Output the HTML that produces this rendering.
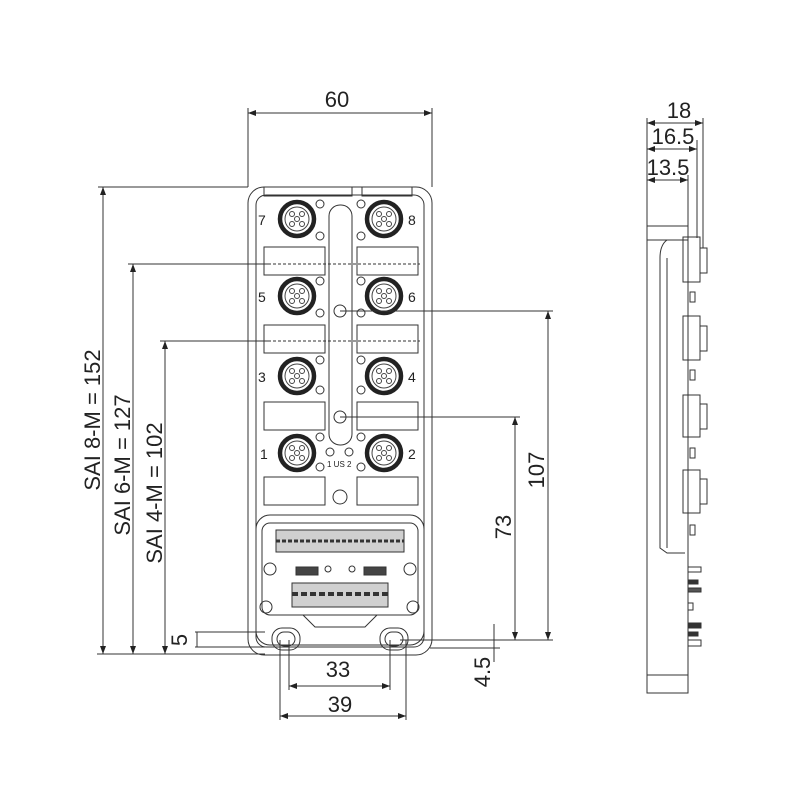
<!DOCTYPE html>
<html><head><meta charset="utf-8"><style>
html,body{margin:0;padding:0;background:#fff}
svg{display:block}
text{font-family:"Liberation Sans Narrow","Liberation Sans",sans-serif;fill:#222}
</style></head><body>
<svg width="800" height="800" viewBox="0 0 800 800" xmlns="http://www.w3.org/2000/svg">
<defs>
<marker id="a" markerWidth="8" markerHeight="6" refX="8" refY="3" orient="auto-start-reverse" markerUnits="userSpaceOnUse"><path d="M0,0 L8,3 L0,6z" fill="#222"/></marker>
<g id="conn">
<circle r="17" fill="none" stroke="#222" stroke-width="4.5"/>
<circle r="12" fill="none" stroke="#444" stroke-width="1"/>
<circle r="2.5" fill="none" stroke="#444"/>
<circle cx="-5" cy="-5" r="2.5" fill="none" stroke="#444"/>
<circle cx="5" cy="-5" r="2.5" fill="none" stroke="#444"/>
<circle cx="-5" cy="5" r="2.5" fill="none" stroke="#444"/>
<circle cx="5" cy="5" r="2.5" fill="none" stroke="#444"/>
</g>
</defs>
<g stroke="#333" stroke-width="1" fill="none">
<rect x="248" y="187" width="184" height="468" rx="16"/>
<rect x="256" y="195" width="168" height="452" rx="10"/>
<rect x="264" y="187" width="88" height="9"/>
<rect x="362" y="187" width="50" height="9"/>
<rect x="329" y="205" width="23" height="240" rx="11"/>
<rect x="264" y="247" width="61" height="28"/><rect x="357" y="247" width="61" height="28"/>
<rect x="264" y="325" width="61" height="28"/><rect x="357" y="325" width="61" height="28"/>
<rect x="264" y="402" width="61" height="28"/><rect x="357" y="402" width="61" height="28"/>
<rect x="264" y="477" width="61" height="28"/><rect x="357" y="477" width="61" height="28"/>
<line x1="268" y1="264" x2="420" y2="264" stroke-dasharray="3 2"/>
<line x1="268" y1="341" x2="420" y2="341" stroke-dasharray="3 2"/>
<circle cx="320" cy="204" r="4"/><circle cx="320" cy="236" r="4"/><circle cx="361" cy="204" r="4"/><circle cx="361" cy="236" r="4"/>
<circle cx="320" cy="281" r="4"/><circle cx="320" cy="313" r="4"/><circle cx="361" cy="281" r="4"/><circle cx="361" cy="313" r="4"/>
<circle cx="320" cy="360" r="4"/><circle cx="320" cy="390" r="4"/><circle cx="361" cy="360" r="4"/><circle cx="361" cy="390" r="4"/>
<circle cx="320" cy="437" r="4"/><circle cx="320" cy="467" r="4"/><circle cx="361" cy="437" r="4"/><circle cx="361" cy="467" r="4"/>
<circle cx="330" cy="452" r="4"/><circle cx="349" cy="452" r="4"/>
<circle cx="340" cy="311" r="6"/><circle cx="340" cy="417" r="6"/><circle cx="340" cy="497" r="7"/>
<rect x="256" y="515" width="168" height="130" rx="14"/>
<rect x="262" y="523" width="156" height="92" rx="8"/>
<rect x="276" y="530" width="128" height="22" fill="#d0d0d0"/>
<line x1="276" y1="541" x2="404" y2="541" stroke-dasharray="4 2" stroke-width="3"/>
<rect x="292" y="583" width="96" height="24" fill="#d0d0d0"/>
<line x1="292" y1="594" x2="388" y2="594" stroke-dasharray="6 3" stroke-width="4"/>
<rect x="296" y="567" width="22" height="8" fill="#444"/><rect x="364" y="567" width="22" height="8" fill="#444"/>
<circle cx="328" cy="569" r="3"/><circle cx="352" cy="569" r="3"/>
<circle cx="270" cy="569" r="6"/><circle cx="410" cy="569" r="6"/>
<circle cx="266" cy="607" r="6"/><circle cx="413" cy="607" r="6"/>
<path d="M303,615 L315,627 L365,627 L377,615"/>
<rect x="272" y="628" width="28" height="22" rx="10"/><rect x="380" y="628" width="28" height="22" rx="10"/>
<rect x="277" y="632" width="18" height="14" rx="7"/><rect x="385" y="632" width="18" height="14" rx="7"/>
</g>
<g>
<use href="#conn" x="297" y="219"/><use href="#conn" x="384" y="219"/>
<use href="#conn" x="297" y="296"/><use href="#conn" x="384" y="296"/>
<use href="#conn" x="297" y="376"/><use href="#conn" x="384" y="376"/>
<use href="#conn" x="297" y="453"/><use href="#conn" x="384" y="453"/>
</g>
<g font-size="14">
<text x="258" y="225">7</text><text x="408" y="225">8</text>
<text x="258" y="302">5</text><text x="408" y="302">6</text>
<text x="258" y="382">3</text><text x="408" y="382">4</text>
<text x="260" y="459">1</text><text x="408" y="459">2</text>
<text x="327" y="467" font-size="8">1 US 2</text>
</g>
<g stroke="#333" stroke-width="1" fill="none">
<line x1="248" y1="108" x2="248" y2="187"/><line x1="432" y1="108" x2="432" y2="187"/>
<line x1="248" y1="113" x2="432" y2="113" marker-start="url(#a)" marker-end="url(#a)"/>
<line x1="98" y1="187" x2="248" y2="187"/>
<line x1="128" y1="264" x2="268" y2="264"/>
<line x1="160" y1="341" x2="268" y2="341"/>
<line x1="97" y1="654" x2="265" y2="654"/>
<line x1="103" y1="187" x2="103" y2="654" marker-start="url(#a)" marker-end="url(#a)"/>
<line x1="133" y1="264" x2="133" y2="654" marker-start="url(#a)" marker-end="url(#a)"/>
<line x1="165" y1="341" x2="165" y2="654" marker-start="url(#a)" marker-end="url(#a)"/>
<line x1="195" y1="632" x2="265" y2="632"/><line x1="195" y1="647" x2="265" y2="647"/>
<line x1="197" y1="632" x2="197" y2="647"/>
<line x1="340" y1="311" x2="553" y2="311"/><line x1="340" y1="417" x2="520" y2="417"/>
<line x1="548" y1="311" x2="548" y2="640" marker-start="url(#a)" marker-end="url(#a)"/>
<line x1="515" y1="417" x2="515" y2="640" marker-start="url(#a)" marker-end="url(#a)"/>
<line x1="400" y1="640" x2="553" y2="640"/><line x1="430" y1="648" x2="500" y2="648"/>
<line x1="494" y1="624" x2="494" y2="662"/>
<line x1="289" y1="640" x2="289" y2="690"/><line x1="390" y1="640" x2="390" y2="690"/>
<line x1="280" y1="640" x2="280" y2="720"/><line x1="406" y1="640" x2="406" y2="720"/>
<line x1="289" y1="686" x2="390" y2="686" marker-start="url(#a)" marker-end="url(#a)"/>
<line x1="280" y1="716" x2="406" y2="716" marker-start="url(#a)" marker-end="url(#a)"/>
<path d="M647,226 L647,693 L688,693 L688,226 Z"/>
<line x1="647" y1="240" x2="688" y2="240"/>
<path d="M667,240 Q660,245 660,258 L660,548 L667,553 L685,553"/>
<line x1="667" y1="258" x2="667" y2="548"/>
<line x1="647" y1="675" x2="688" y2="675"/>
<line x1="697" y1="140" x2="697" y2="238"/><line x1="703" y1="118" x2="703" y2="248"/>
<line x1="688" y1="175" x2="688" y2="226"/>
<line x1="647" y1="118" x2="647" y2="226"/>
<line x1="647" y1="123" x2="703" y2="123" marker-start="url(#a)" marker-end="url(#a)"/>
<line x1="647" y1="149" x2="697" y2="149" marker-start="url(#a)" marker-end="url(#a)"/>
<line x1="647" y1="180" x2="688" y2="180" marker-start="url(#a)" marker-end="url(#a)"/>
<rect x="683" y="237" width="17" height="45"/><rect x="700" y="248" width="7" height="25"/>
<rect x="683" y="316" width="17" height="44"/><rect x="700" y="326" width="7" height="25"/>
<rect x="683" y="395" width="17" height="42"/><rect x="700" y="404" width="7" height="25"/>
<rect x="683" y="470" width="17" height="43"/><rect x="700" y="479" width="7" height="25"/>
<rect x="690" y="292" width="5" height="10"/><rect x="690" y="370" width="5" height="10"/>
<rect x="690" y="448" width="5" height="10"/><rect x="690" y="525" width="5" height="10"/>
<rect x="688" y="567" width="13" height="5"/><rect x="688" y="580" width="10" height="4" fill="#333"/>
<rect x="688" y="588" width="13" height="4" fill="#555"/><rect x="688" y="603" width="5" height="7"/>
<rect x="688" y="623" width="13" height="5" fill="#333"/><rect x="688" y="632" width="10" height="4" fill="#333"/>
<rect x="688" y="640" width="13" height="6"/>
</g>
<g font-size="22">
<text x="337" y="107" text-anchor="middle">60</text>
<text x="338" y="677" text-anchor="middle">33</text>
<text x="340" y="712" text-anchor="middle">39</text>
<text x="679" y="118" text-anchor="middle">18</text>
<text x="673" y="144" text-anchor="middle">16.5</text>
<text x="668" y="175" text-anchor="middle">13.5</text>
<text transform="translate(100,420) rotate(-90)" text-anchor="middle">SAI 8-M = 152</text>
<text transform="translate(130,465) rotate(-90)" text-anchor="middle">SAI 6-M = 127</text>
<text transform="translate(162,493) rotate(-90)" text-anchor="middle">SAI 4-M = 102</text>
<text transform="translate(187,640) rotate(-90)" text-anchor="middle">5</text>
<text transform="translate(544,470) rotate(-90)" text-anchor="middle">107</text>
<text transform="translate(511,527) rotate(-90)" text-anchor="middle">73</text>
<text transform="translate(490,672) rotate(-90)" text-anchor="middle">4.5</text>
</g>
</svg>
</body></html>
